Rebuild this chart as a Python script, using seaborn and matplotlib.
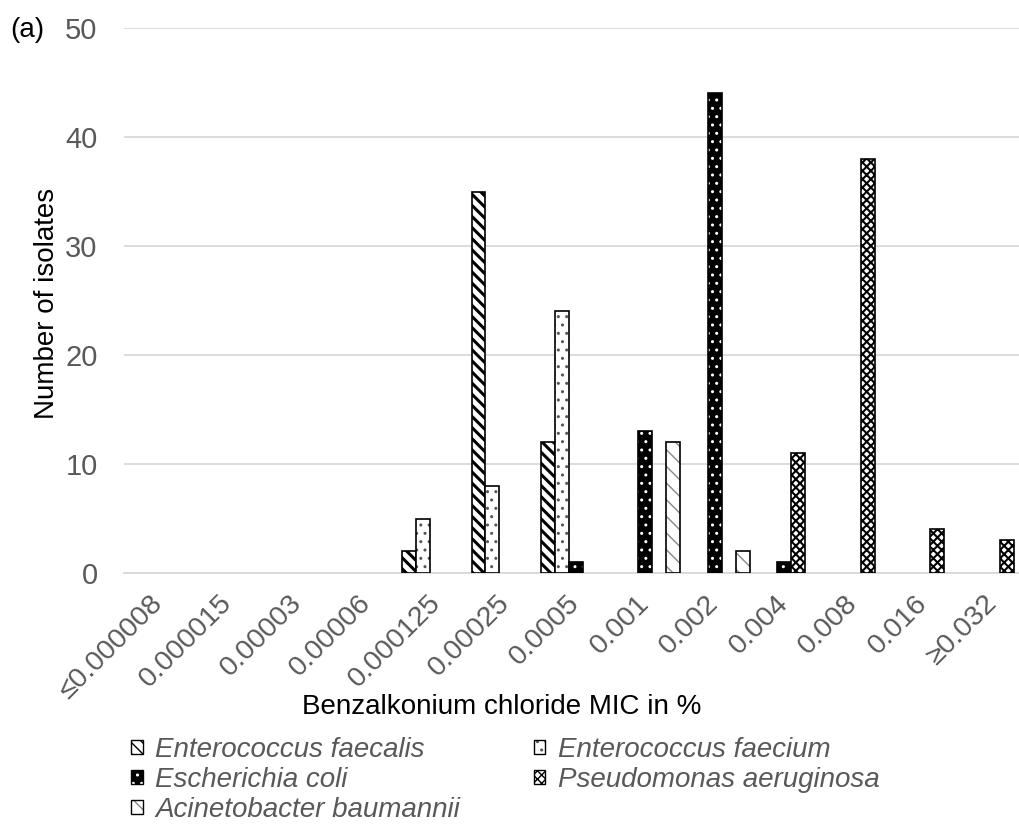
import matplotlib
matplotlib.use('Agg')
import numpy as np
import pandas as pd
import matplotlib.pyplot as plt
import matplotlib.patches as mpatches
import seaborn as sns

# MIC classes (x axis) and isolate counts per species
mic_labels = ['≤0.000008', '0.000015', '0.00003', '0.00006', '0.000125', '0.00025',
              '0.0005', '0.001', '0.002', '0.004', '0.008', '0.016', '≥0.032']
species = ['Enterococcus faecalis', 'Enterococcus faecium', 'Escherichia coli',
           'Pseudomonas aeruginosa', 'Acinetobacter baumannii']
e_faecalis = [0, 0, 0, 0, 2, 35, 12, 0, 0, 0, 0, 0, 0]
e_faecium = [0, 0, 0, 0, 5, 8, 24, 0, 0, 0, 0, 0, 0]
e_coli = [0, 0, 0, 0, 0, 0, 1, 13, 44, 1, 0, 0, 0]
p_aeruginosa = [0, 0, 0, 0, 0, 0, 0, 0, 0, 11, 38, 4, 3]
a_baumannii = [0, 0, 0, 0, 0, 0, 0, 12, 2, 0, 0, 0, 0]

counts = [e_faecalis, e_faecium, e_coli, p_aeruginosa, a_baumannii]
df = pd.DataFrame({
    'mic': mic_labels * len(species),
    'species': np.repeat(species, len(mic_labels)),
    'n': np.concatenate(counts),
})

# facecolor, hatch, hatch colour, hatch linewidth
styles = {
    'Enterococcus faecalis': ('white', '\\\\\\', 'black', 2.2),
    'Enterococcus faecium': ('white', '..', '#555555', 1.0),
    'Escherichia coli': ('black', '..', 'white', 1.0),
    'Pseudomonas aeruginosa': ('white', 'xxxx', 'black', 1.5),
    'Acinetobacter baumannii': ('white', '\\\\', '#888888', 1.0),
}

sns.set_theme(style='white')
plt.rcParams['font.family'] = ['Liberation Sans', 'DejaVu Sans']
grey = '#595959'

fig = plt.figure(figsize=(10.19, 8.26), dpi=100)
ax = fig.add_axes([124 / 1019, 253 / 826, 895 / 1019, 545 / 826])

sns.barplot(data=df, x='mic', y='n', hue='species', order=mic_labels,
            hue_order=species, width=1.0, dodge=True, legend=False,
            edgecolor='black', linewidth=1.2, ax=ax, zorder=3)


def style_patch(p, name):
    fc, hatch, hc, hlw = styles[name]
    p.set_facecolor(fc)
    p.set_edgecolor('black')
    p.set_hatch(hatch)
    p._hatch_color = matplotlib.colors.to_rgba(hc)
    if hasattr(p, 'set_hatch_linewidth'):
        p.set_hatch_linewidth(hlw)


for name, cont in zip(species, ax.containers):
    for p in cont.patches:
        style_patch(p, name)
        if p.get_height() == 0:
            p.set_visible(False)

ax.set_ylim(0, 50)
ax.set_xlim(-0.5, -0.5 + 895 / 69.5)
ax.set_yticks(range(0, 51, 10))
ax.yaxis.grid(True, color='#d9d9d9', linewidth=1.3, zorder=0)
ax.xaxis.grid(False)
for s in ['top', 'right', 'left']:
    ax.spines[s].set_visible(False)
ax.spines['bottom'].set_color('#d9d9d9')
ax.spines['bottom'].set_linewidth(1.3)

ax.tick_params(axis='y', length=0, pad=19, labelsize=21, labelcolor=grey)
ax.tick_params(axis='x', length=0, pad=19, labelsize=20.5, labelcolor=grey)
plt.setp(ax.get_xticklabels(), rotation=45, ha='right', va='center',
         rotation_mode='anchor')

ax.set_ylabel('Number of isolates', fontsize=20, color='black')
ax.set_xlabel('Benzalkonium chloride MIC in %', fontsize=20, color='black')
ax.yaxis.set_label_coords(-0.072, 0.494)
ax.xaxis.set_label_coords(0.422, -0.222)

fig.text(10 / 1019, 1 - 30 / 826, '(a)', fontsize=20, color='black', va='center')

# legend in row order: faecalis, faecium / coli, aeruginosa / baumannii
handles = []
for name in species:
    h = mpatches.Patch(label=name, linewidth=1.0)
    style_patch(h, name)
    handles.append(h)
order = [0, 2, 4, 1, 3]
leg = fig.legend([handles[i] for i in order], [species[i] for i in order],
                 ncol=2, loc='upper left', bbox_to_anchor=(131 / 1019, 1 - 737 / 826),
                 frameon=False, fontsize=20, handlelength=0.42, handleheight=0.42,
                 handletextpad=0.45, columnspacing=2.65, labelspacing=0.14,
                 borderpad=0, borderaxespad=0)
for t in leg.get_texts():
    t.set_color(grey)
    t.set_fontstyle('italic')

fig.savefig('out.png', dpi=100)
